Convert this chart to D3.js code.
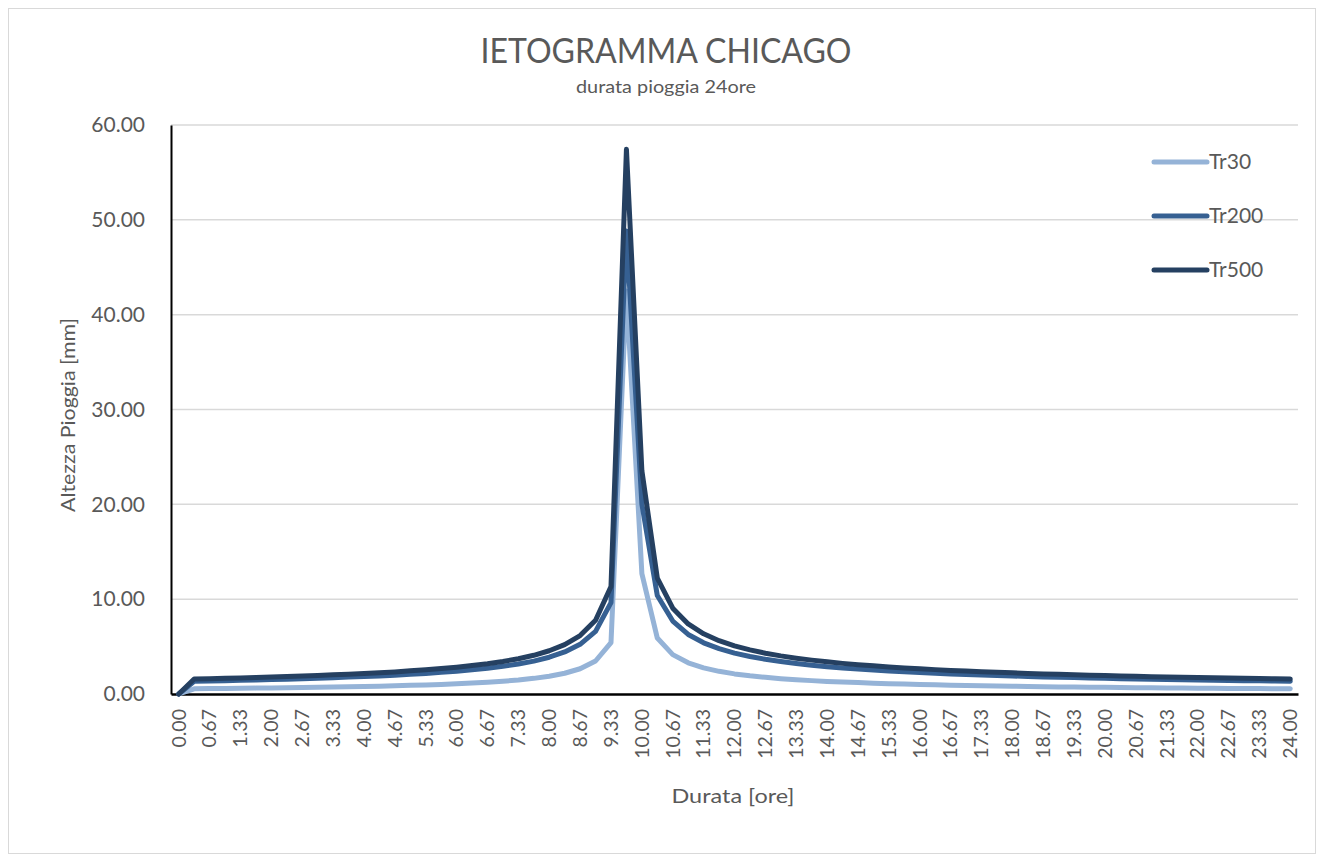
<!DOCTYPE html>
<html>
<head>
<meta charset="utf-8">
<script src="https://cdn.jsdelivr.net/npm/d3@7"></script>
<style>
    body { margin: 0; background: #fff; }
    text { font-family: Lato, "Open Sans", sans-serif; fill: #595959; }
</style>
</head>
<body>
<div id="chart"></div>
<script>
// durata [ore], one category every 20 minutes
let durata = ["0.00","0.33","0.67","1.00","1.33","1.67","2.00","2.33","2.67","3.00","3.33","3.67",
    "4.00","4.33","4.67","5.00","5.33","5.67","6.00","6.33","6.67","7.00","7.33","7.67",
    "8.00","8.33","8.67","9.00","9.33","9.67","10.00","10.33","10.67","11.00","11.33","11.67",
    "12.00","12.33","12.67","13.00","13.33","13.67","14.00","14.33","14.67","15.00","15.33","15.67",
    "16.00","16.33","16.67","17.00","17.33","17.67","18.00","18.33","18.67","19.00","19.33","19.67",
    "20.00","20.33","20.67","21.00","21.33","21.67","22.00","22.33","22.67","23.00","23.33","23.67","24.00"];

// altezza pioggia [mm]
let tr30 = [0, 0.55, 0.57, 0.58, 0.60, 0.62, 0.64, 0.66, 0.68, 0.70, 0.73, 0.76, 0.79, 0.83, 0.86, 0.91,
    0.96, 1.01, 1.08, 1.15, 1.24, 1.35, 1.48, 1.65, 1.88, 2.19, 2.66, 3.48, 5.41, 42.50, 12.69, 5.90,
    4.15, 3.29, 2.76, 2.39, 2.12, 1.92, 1.76, 1.62, 1.51, 1.41, 1.33, 1.26, 1.20, 1.14, 1.09, 1.05,
    1.00, 0.97, 0.93, 0.90, 0.87, 0.84, 0.82, 0.80, 0.77, 0.75, 0.73, 0.72, 0.70, 0.68, 0.67, 0.65,
    0.64, 0.63, 0.61, 0.60, 0.59, 0.58, 0.57, 0.56, 0.55];

let tr200 = [0, 1.34, 1.38, 1.41, 1.45, 1.48, 1.52, 1.56, 1.62, 1.66, 1.72, 1.78, 1.84, 1.90, 1.98, 2.07,
    2.17, 2.28, 2.41, 2.55, 2.71, 2.92, 3.16, 3.47, 3.88, 4.43, 5.24, 6.60, 9.63, 48.82, 20.03, 10.39,
    7.69, 6.28, 5.40, 4.78, 4.31, 3.95, 3.66, 3.42, 3.21, 3.03, 2.88, 2.75, 2.63, 2.52, 2.42, 2.34,
    2.26, 2.18, 2.12, 2.06, 2.00, 1.95, 1.90, 1.84, 1.80, 1.76, 1.73, 1.69, 1.65, 1.62, 1.59, 1.56,
    1.53, 1.50, 1.48, 1.45, 1.43, 1.40, 1.39, 1.36, 1.34];

let tr500 = [0, 1.58, 1.62, 1.66, 1.70, 1.74, 1.79, 1.84, 1.90, 1.95, 2.02, 2.09, 2.16, 2.24, 2.33, 2.44,
    2.55, 2.68, 2.83, 3.00, 3.19, 3.43, 3.72, 4.08, 4.56, 5.21, 6.16, 7.77, 11.33, 57.44, 23.56, 12.22,
    9.05, 7.39, 6.35, 5.62, 5.07, 4.65, 4.30, 4.02, 3.78, 3.57, 3.39, 3.23, 3.09, 2.97, 2.85, 2.75,
    2.66, 2.57, 2.49, 2.42, 2.35, 2.29, 2.23, 2.17, 2.12, 2.07, 2.03, 1.99, 1.94, 1.91, 1.87, 1.83,
    1.80, 1.77, 1.74, 1.71, 1.68, 1.65, 1.63, 1.60, 1.58];

let seriesNames = ["Tr30", "Tr200", "Tr500"];
let seriesColors = ["#95b3d7", "#366092", "#254061"];
let yTicks = [0, 10, 20, 30, 40, 50, 60];

let series = [tr30, tr200, tr500];

let svg = d3.select("#chart")
    .append("svg")
    .attr("width", 1323)
    .attr("height", 861);

svg.append("rect")
    .attr("x", 8.5).attr("y", 8.5)
    .attr("width", 1307).attr("height", 845)
    .attr("fill", "#fff")
    .attr("stroke", "#d9d9d9");

let x = d3.scaleBand().domain(durata).range([171, 1298]);
let y = d3.scaleLinear().domain([0, 60]).range([694, 125]);
let half = x.bandwidth() / 2;

// gridlines
svg.append("g")
    .selectAll("line")
    .data(yTicks.slice(1))
    .join("line")
    .attr("x1", 171).attr("x2", 1298)
    .attr("y1", d => y(d)).attr("y2", d => y(d))
    .attr("stroke", "#d9d9d9")
    .attr("stroke-width", 1.5);

// y axis
let yAxis = svg.append("g")
    .attr("transform", "translate(171,0)")
    .call(d3.axisLeft(y).tickValues(yTicks).tickSize(0).tickPadding(26).tickFormat(d => d.toFixed(2)));
yAxis.select(".domain").attr("stroke", "#000").attr("stroke-width", 2);
yAxis.selectAll("text")
    .attr("font-size", 21)
    .style("font-family", "Lato, 'Open Sans', sans-serif")
    .attr("fill", "#595959");

// x axis, one label every second category
let xAxis = svg.append("g")
    .attr("transform", "translate(0,694)")
    .call(d3.axisBottom(x).tickValues(durata.filter((d, i) => i % 2 === 0)).tickSize(0));
xAxis.select(".domain").attr("stroke", "#000").attr("stroke-width", 2.5);
xAxis.selectAll("text")
    .attr("transform", "rotate(-90)")
    .attr("x", -15)
    .attr("y", 0)
    .attr("dy", "0.35em")
    .style("text-anchor", "end")
    .style("font-family", "Lato, 'Open Sans', sans-serif")
    .attr("font-size", 19.5)
    .attr("fill", "#595959");

// lines
let line = d3.line()
    .x((d, i) => x(durata[i]) + half)
    .y(d => y(d));

svg.append("g")
    .selectAll("path")
    .data(series)
    .join("path")
    .attr("d", d => line(d))
    .attr("fill", "none")
    .attr("stroke", (d, i) => seriesColors[i])
    .attr("stroke-width", 5)
    .attr("stroke-linejoin", "round")
    .attr("stroke-linecap", "round");

// legend
let legend = svg.append("g")
    .selectAll("g")
    .data(seriesNames)
    .join("g")
    .attr("transform", (d, i) => `translate(1152,${162 + i * 54})`);

legend.append("line")
    .attr("x1", 2).attr("x2", 55)
    .attr("stroke", (d, i) => seriesColors[i])
    .attr("stroke-width", 5)
    .attr("stroke-linecap", "round");

legend.append("text")
    .attr("x", 57)
    .attr("dy", "0.35em")
    .attr("font-size", 21)
    .text(d => d);

// titles
svg.append("text")
    .attr("x", 666).attr("y", 63)
    .attr("text-anchor", "middle")
    .attr("font-size", 34)
    .attr("textLength", 371)
    .attr("lengthAdjust", "spacingAndGlyphs")
    .text("IETOGRAMMA CHICAGO");

svg.append("text")
    .attr("x", 666).attr("y", 93)
    .attr("text-anchor", "middle")
    .attr("font-size", 17)
    .attr("textLength", 180)
    .attr("lengthAdjust", "spacingAndGlyphs")
    .text("durata pioggia 24ore");

svg.append("text")
    .attr("x", 733).attr("y", 803)
    .attr("text-anchor", "middle")
    .attr("font-size", 20)
    .attr("textLength", 123)
    .attr("lengthAdjust", "spacingAndGlyphs")
    .text("Durata [ore]");

svg.append("text")
    .attr("transform", "translate(75,415) rotate(-90)")
    .attr("text-anchor", "middle")
    .attr("font-size", 19)
    .attr("textLength", 194)
    .attr("lengthAdjust", "spacingAndGlyphs")
    .text("Altezza Pioggia [mm]");
</script>
</body>
</html>
